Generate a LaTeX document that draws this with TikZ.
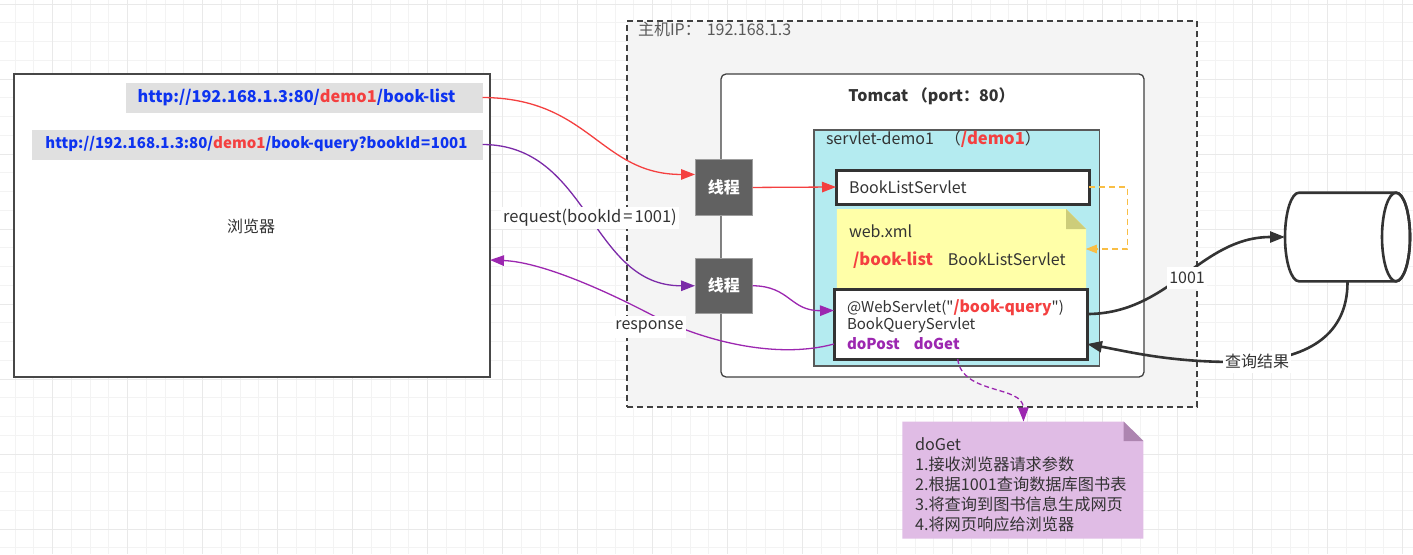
\documentclass[tikz,border=0pt]{standalone}
\usepackage{fontspec}
\setmainfont{Noto Sans CJK SC}
\newfontfamily\plainfont{Noto Sans CJK SC}
\usetikzlibrary{arrows.meta,calc}
\definecolor{ink}{HTML}{333333}
\definecolor{urlblue}{HTML}{0D33F0}
\definecolor{hotred}{HTML}{F44040}
\definecolor{vio}{HTML}{9C27B0}
\definecolor{dvio}{HTML}{7B2AA8}
\definecolor{amber}{HTML}{F9BE45}
\definecolor{demofill}{HTML}{B4EBF0}
\definecolor{webfill}{HTML}{FFFFA8}
\definecolor{webfold}{HTML}{CDCD7A}
\definecolor{notefill}{HTML}{E0BCE5}
\definecolor{notefold}{HTML}{AD85B0}
\definecolor{hostfill}{HTML}{F4F4F4}
\definecolor{threadfill}{HTML}{616161}
\definecolor{gridminor}{HTML}{F3F3F3}
\definecolor{gridmajor}{HTML}{E9E9E9}
\newcommand{\fs}[1]{\fontsize{#1}{#1}\selectfont}
\newcommand{\sq}{{\plainfont\symbol{34}}}
\tikzset{
  x=1pt,y=-1pt,
  every node/.style={outer sep=0pt,inner sep=0pt,text=ink},
  box/.style={anchor=north west,minimum width=#1},
  txt/.style={anchor=west,font=\fs{16}},
  lab/.style={fill=white,inner xsep=2pt,minimum height=22pt,font=\fs{16}},
  tip/.style={-{Triangle[length=14pt,width=10.5pt]}},
  smalltip/.style={-{Triangle[length=11pt,width=8.5pt]}},
  bigtip/.style={-{Triangle[length=15pt,width=11pt]}},
  thread/.style={anchor=north west,fill=threadfill,draw=black!38,line width=.8pt,minimum width=57.5pt,minimum height=55.5pt,text=white,font=\fs{16}\bfseries},
  urlbar/.style={anchor=north west,fill=black!12,minimum height=30pt,text=urlblue},
  conn/.style={line width=1.3pt},
  heavy/.style={line width=2.6pt,draw=ink},
}
\begin{document}
\begin{tikzpicture}
\useasboundingbox (0,0) rectangle (1413,554);
\fill[white] (0,0) rectangle (1413,554);
% grid
\foreach \i in {0,...,75}{
  \draw[gridminor,line width=1pt] ({-3.75+18.75*\i},0) -- ({-3.75+18.75*\i},554);
}
\foreach \i in {0,...,30}{
  \draw[gridminor,line width=1pt] (0,{4+18.75*\i}) -- (1413,{4+18.75*\i});
}
\foreach \i in {0,...,18}{
  \draw[gridmajor,line width=1pt] ({52.5+75*\i},0) -- ({52.5+75*\i},554);
}
\foreach \i in {0,...,7}{
  \draw[gridmajor,line width=1pt] (0,{4+75*\i}) -- (1413,{4+75*\i});
}
% browser
\node[box=476pt,minimum height=303pt,draw=black!72,fill=white,line width=1.6pt] (browser) at (14,74) {};
\node[font=\fs{16}] (browsertxt) at (251,226) {浏览器};
\node[urlbar,minimum width=357pt,font=\fs{16.3}\bfseries] (url1) at (125.5,82.5) {\hspace{-15pt}\raisebox{-1pt}{\textcolor{urlblue}{http://192.168.1.3:80/}\textcolor{hotred}{demo1}\textcolor{urlblue}{/book-list}}};
\node[urlbar,minimum width=450.5pt,font=\fs{15}\bfseries] (url2) at (32.2,129.5) {\hspace{-2pt}\raisebox{-1pt}{\textcolor{urlblue}{http://192.168.1.3:80/}\textcolor{hotred}{demo1}\textcolor{urlblue}{/book-query?bookId\hspace{.7pt}=\hspace{.7pt}1001}}};
% host
\node[box=570pt,minimum height=386pt,draw=black!75,fill=hostfill,line width=1.4pt,dash pattern=on 6pt off 4pt] (host) at (627,21) {};
\node[txt,text=black!65] (hosttxt) at (638,29) {主机IP：\hspace{6pt}192.168.1.3};
% tomcat
\node[box=423pt,minimum height=303pt,draw=black!75,fill=white,line width=1.3pt,rounded corners=5pt] (tomcat) at (721,74) {};
\node[font=\fs{16}\bfseries] (tomcattxt) at (931.5,96.5) {Tomcat （port：80）};
% demo1
\node[box=285.5pt,minimum height=236pt,draw=black!65,fill=demofill,line width=1.2pt] (demo) at (814,130) {};
\node[txt] (demotxt) at (826,139) {servlet-demo1\hspace{11pt}（\textcolor{hotred}{\fs{16.6}\textbf{/demo1}}）};
% threads
\node[thread] (t1) at (695,159.7) {线程};
\node[thread] (t2) at (695,258) {线程};
% BookListServlet
\node[box=253pt,minimum height=34pt,draw=ink,fill=white,line width=3pt] (bls) at (836,170) {};
\node[txt] (blstxt) at (849,187.5) {BookListServlet};
% web.xml
\fill[webfill] (836.8,209) -- (1066,209) -- (1086,229) -- (1086,288) -- (836.8,288) -- cycle;
\fill[webfold] (1066,209) -- (1086,229) -- (1066,229) -- cycle;
\node[minimum width=249pt,minimum height=79pt,anchor=north west] (web) at (836.8,209) {};
\node[txt] (webtxt) at (849,231.5) {web.xml};
\node[txt] (webmap) at (853,260.5) {\textcolor{hotred}{\fs{16.6}\textbf{/book-list}}\hspace{15pt}BookListServlet};
% BookQueryServlet
\node[box=253pt,minimum height=70pt,draw=ink,fill=white,line width=3pt] (bqs) at (834,289) {};
\node[txt,font=\fs{15}] (bq1) at (847,307.5) {@WebServlet(\sq\textcolor{hotred}{\fs{15.8}\textbf{/book-query}}\sq)};
\node[txt,font=\fs{15}] (bq2) at (847,325.5) {BookQueryServlet};
\node[txt,font=\fs{15}\bfseries,text=vio] (bq3) at (847,343.5) {doPost\hspace{14pt}doGet};
% note
\fill[notefill] (902.3,421.5) -- (1123.7,421.5) -- (1143.3,441) -- (1143.3,538.7) -- (902.3,538.7) -- cycle;
\fill[notefold] (1123.7,421.5) -- (1143.3,441) -- (1123.7,441) -- cycle;
\node[minimum width=241pt,minimum height=117.2pt,anchor=north west] (note) at (902.3,421.5) {};
\node[txt,font=\fs{16.2}] (n0) at (915,444) {doGet};
\node[txt,font=\fs{16.2}] (n1) at (915,464.5) {1.接收浏览器请求参数};
\node[txt,font=\fs{16.2}] (n2) at (915,484) {2.根据1001查询数据库图书表};
\node[txt,font=\fs{16.2}] (n3) at (915,504) {3.将查询到图书信息生成网页};
\node[txt,font=\fs{16.2}] (n4) at (915,524) {4.将网页响应给浏览器};
% cylinder
\draw[heavy,fill=white] (1299,192.7) -- (1396,192.7) .. controls (1403.7,192.7) and (1410,212.5) .. (1410,237) .. controls (1410,261.5) and (1403.7,281.3) .. (1396,281.3) -- (1299,281.3) .. controls (1291.3,281.3) and (1285,261.5) .. (1285,237) .. controls (1285,212.5) and (1291.3,192.7) .. (1299,192.7) -- cycle;
\draw[heavy] (1396,237) ellipse [x radius=14pt,y radius=44.3pt];
\node[minimum width=125pt,minimum height=88.6pt] (db) at (1347.5,237) {};
% connectors
\draw[conn,draw=hotred,tip,hotred] (url1.east) .. controls (590,98) and (600,174.5) .. ([yshift=13pt]t1.west);
\draw[conn,draw=dvio,tip,dvio] (url2.east) .. controls (590,145) and (590,286) .. (t2.west);
\draw[conn,draw=hotred,tip,hotred] (t1.east) -- (bls.west);
\draw[conn,draw=vio,tip,vio] (t2.east) .. controls (790,286) and (790,311) .. ([yshift=13.5pt]bqs.west);
\draw[conn,draw=vio,tip,vio] ([yshift=-20pt]bqs.west) .. controls (775,360) and (700,340) .. (650,314) .. controls (600,288) and (540,262) .. ([yshift=-34.5pt]browser.east);
\draw[conn,draw=amber,smalltip,amber,dash pattern=on 6pt off 4pt] (bls.east) -- (1127.5,187) -- (1127.5,249) -- ([yshift=-0.5pt]web.east);
\draw[conn,draw=vio,tip,vio,dash pattern=on 5pt off 3pt] ([xshift=-2.8pt]bqs.south) .. controls (962,395) and (1023,385) .. ([xshift=.7pt]note.north);
\draw[heavy,bigtip,ink] ([yshift=10pt]bqs.east) .. controls (1170,314) and (1200,237) .. (db.west);
\draw[heavy,bigtip,ink] (db.south) .. controls (1348,340) and (1300,362) .. (1235,362) .. controls (1170,362) and (1130,352) .. ([yshift=-20pt]bqs.east);
% labels
\node[lab,font=\fs{16.5}] (reqlab) at (590,217.5) {request(bookId\hspace{2pt}=\hspace{2pt}1001)};
\node[lab] (resplab) at (649.5,326.5) {response};
\node[lab] (l1001) at (1187,277.5) {1001};
\node[lab] (lres) at (1257,361.5) {查询结果};
\end{tikzpicture}
\end{document}
